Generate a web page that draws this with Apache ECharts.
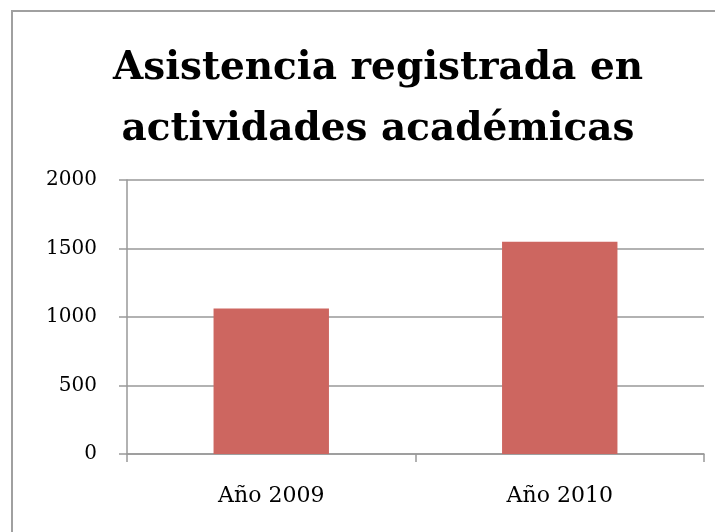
<!DOCTYPE html>
<html><head><meta charset="utf-8">
<script src="https://cdn.jsdelivr.net/npm/echarts@6/dist/echarts.min.js"></script>
<style>html,body{margin:0;padding:0;background:#fff}#c{width:715px;height:532px}</style>
</head><body><div id="c"></div>
<script>
const categories = ["Año 2009", "Año 2010"];
const attendance = [1062, 1549];
const yTicks = { min: 0, max: 2000, interval: 500 };
const titleLines = ["Asistencia registrada en", "actividades académicas"];

const chart = echarts.init(document.getElementById('c'), null, {renderer: 'canvas'});
const serif = '"DejaVu Serif", "Liberation Serif", serif';
chart.setOption({
  animation: false,
  backgroundColor: '#fff',
  graphic: [{
    type: 'rect', shape: {x: 12, y: 11, width: 740, height: 540},
    style: {fill: 'none', stroke: '#a0a0a0', lineWidth: 2}, silent: true, z: -1
  }],
  title: {
    text: titleLines.join('\n'),
    left: 373, textAlign: 'center', top: 33,
    textStyle: {fontFamily: serif, fontWeight: 'bold', fontSize: 39, lineHeight: 61, color: '#000'}
  },
  grid: {left: 127, right: 11, top: 180, bottom: 78, containLabel: false},
  xAxis: {
    type: 'category', data: categories,
    axisLine: {lineStyle: {color: '#999', width: 1.5}},
    axisTick: {show: true, length: 8, lineStyle: {color: '#999', width: 1.5}},
    axisLabel: {margin: 31, fontFamily: serif, fontSize: 22, color: '#000'}
  },
  yAxis: {
    type: 'value', min: yTicks.min, max: yTicks.max, interval: yTicks.interval,
    axisLine: {show: true, lineStyle: {color: '#999', width: 1.5}},
    axisTick: {show: true, length: 8, lineStyle: {color: '#999', width: 1.5}},
    splitLine: {show: true, lineStyle: {color: '#999', width: 1.5}},
    axisLabel: {margin: 30, fontFamily: serif, fontSize: 20, color: '#000', formatter: v => String(v)}
  },
  series: [{
    type: 'bar', data: attendance, barCategoryGap: '60%',
    itemStyle: {color: '#CD6660'}
  }]
});
</script></body></html>
